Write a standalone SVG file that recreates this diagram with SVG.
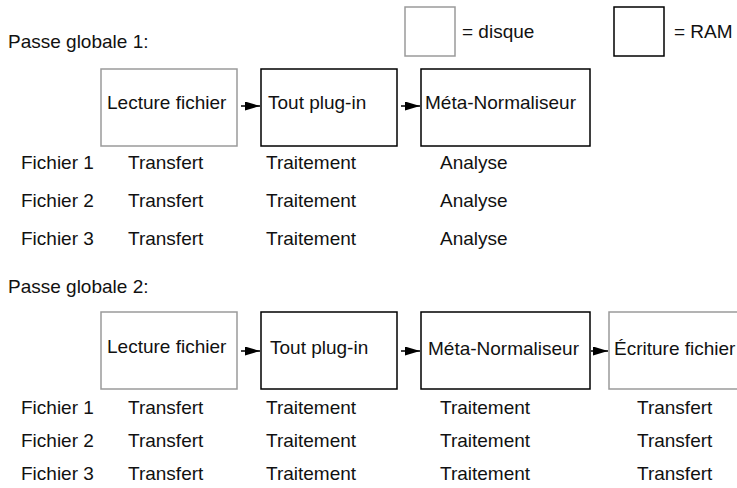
<svg xmlns="http://www.w3.org/2000/svg" width="737" height="488" viewBox="0 0 737 488">
  <style>
    text { font-family: "Liberation Sans", Arial, sans-serif; font-size: 19px; fill: #111; }
    .disk { fill: #fff; stroke: #9a9a9a; stroke-width: 1.5; }
    .ram { fill: #fff; stroke: #000; stroke-width: 1.5; }
    .conn { stroke: #000; stroke-width: 1.5; fill: none; marker-end: url(#head); }
  </style>
  <defs>
    <marker id="head" viewBox="0 0 15 9" refX="15" refY="4.5" markerWidth="15" markerHeight="9" markerUnits="userSpaceOnUse" orient="auto">
      <path d="M0,0 L15,4.5 L0,9 z" fill="#000"/>
    </marker>
  </defs>

  <!-- legend -->
  <g id="legend-disque">
    <rect class="disk" x="405" y="7" width="50" height="49"/>
    <text x="462" y="38">= disque</text>
  </g>
  <g id="legend-ram">
    <rect class="ram" x="614" y="7" width="50" height="49"/>
    <text x="674" y="38">= RAM</text>
  </g>

  <!-- pass 1 -->
  <text x="8" y="48">Passe globale 1:</text>
  <g id="p1-lecture">
    <rect class="disk" x="101" y="69" width="136" height="77"/>
    <text x="107" y="109">Lecture fichier</text>
  </g>
  <g id="p1-plugin">
    <rect class="ram" x="261" y="69" width="136" height="77"/>
    <text x="268" y="109">Tout plug-in</text>
  </g>
  <g id="p1-meta">
    <rect class="ram" x="421" y="69" width="169" height="77"/>
    <text x="425" y="109">Méta-Normaliseur</text>
  </g>

  <g id="p1-rows">
    <text x="21" y="169">Fichier 1</text>
    <text x="128" y="169">Transfert</text>
    <text x="266" y="169">Traitement</text>
    <text x="440" y="169">Analyse</text>
    <text x="21" y="207">Fichier 2</text>
    <text x="128" y="207">Transfert</text>
    <text x="266" y="207">Traitement</text>
    <text x="440" y="207">Analyse</text>
    <text x="21" y="245">Fichier 3</text>
    <text x="128" y="245">Transfert</text>
    <text x="266" y="245">Traitement</text>
    <text x="440" y="245">Analyse</text>
  </g>

  <!-- pass 2 -->
  <text x="8" y="293">Passe globale 2:</text>
  <g id="p2-lecture">
    <rect class="disk" x="101" y="312" width="136" height="77"/>
    <text x="107" y="353">Lecture fichier</text>
  </g>
  <g id="p2-plugin">
    <rect class="ram" x="261" y="312" width="136" height="77"/>
    <text x="270" y="354">Tout plug-in</text>
  </g>
  <g id="p2-meta">
    <rect class="ram" x="421" y="312" width="169" height="77"/>
    <text x="428" y="355">Méta-Normaliseur</text>
  </g>
  <g id="p2-ecriture">
    <rect class="disk" x="609" y="312" width="140" height="77"/>
    <text x="614" y="355">Écriture fichier</text>
  </g>

  <g id="p2-rows">
    <text x="21" y="414">Fichier 1</text>
    <text x="128" y="414">Transfert</text>
    <text x="266" y="414">Traitement</text>
    <text x="440" y="414">Traitement</text>
    <text x="637" y="414">Transfert</text>
    <text x="21" y="447">Fichier 2</text>
    <text x="128" y="447">Transfert</text>
    <text x="266" y="447">Traitement</text>
    <text x="440" y="447">Traitement</text>
    <text x="637" y="447">Transfert</text>
    <text x="21" y="480">Fichier 3</text>
    <text x="128" y="480">Transfert</text>
    <text x="266" y="480">Traitement</text>
    <text x="440" y="480">Traitement</text>
    <text x="637" y="480">Transfert</text>
  </g>

  <!-- connectors -->
  <g id="connectors">
    <line class="conn" x1="241" y1="106" x2="260" y2="106"/>
    <line class="conn" x1="401" y1="106" x2="420" y2="106"/>
    <line class="conn" x1="241" y1="351" x2="260" y2="351"/>
    <line class="conn" x1="401" y1="351" x2="420" y2="351"/>
    <line class="conn" x1="591" y1="351" x2="608" y2="351"/>
  </g>
</svg>
